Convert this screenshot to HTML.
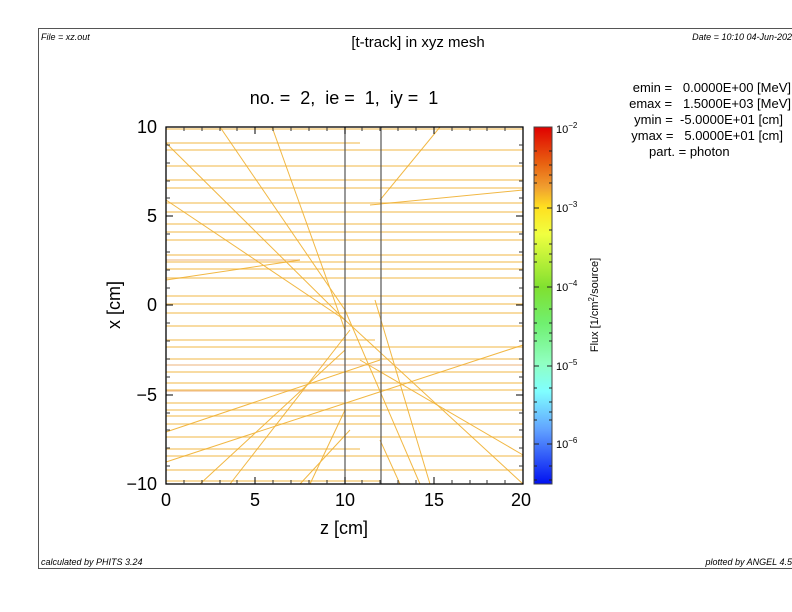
<!DOCTYPE html>
<html><head><meta charset="utf-8"><style>
html,body{margin:0;padding:0;background:#fff;}
svg{display:block;font-family:"Liberation Sans",sans-serif;}
.p{white-space:pre;}
</style></head><body>
<svg width="792" height="612" viewBox="0 0 792 612" xmlns="http://www.w3.org/2000/svg">
<defs>
<linearGradient id="cb" x1="0" y1="0" x2="0" y2="1">
<stop offset="0" stop-color="#e00000"/>
<stop offset="0.1" stop-color="#e86010"/>
<stop offset="0.17" stop-color="#f0a030"/>
<stop offset="0.225" stop-color="#ffe020"/>
<stop offset="0.3" stop-color="#f0ff40"/>
<stop offset="0.45" stop-color="#80e030"/>
<stop offset="0.55" stop-color="#70f070"/>
<stop offset="0.66" stop-color="#90ffc0"/>
<stop offset="0.74" stop-color="#80ffff"/>
<stop offset="0.85" stop-color="#60a0ff"/>
<stop offset="1" stop-color="#0010f0"/>
</linearGradient>
</defs>
<rect x="38.5" y="28.5" width="760" height="540" fill="none" stroke="#555" stroke-width="1"/>
<text x="41" y="40" font-size="9" font-style="italic">File = xz.out</text>
<text x="792" y="40" font-size="9" font-style="italic" text-anchor="end">Date = 10:10 04-Jun-202</text>
<text x="418" y="47" font-size="15" text-anchor="middle">[t-track] in xyz mesh</text>
<text class="p" x="344" y="104" font-size="18" text-anchor="middle">no. =  2,  ie =  1,  iy =  1</text>
<g font-size="13" text-anchor="end">
<text class="p" x="791" y="92">emin =   0.0000E+00 [MeV]</text>
<text class="p" x="791" y="108">emax =   1.5000E+03 [MeV]</text>
<text class="p" x="783" y="124">ymin =  -5.0000E+01 [cm]</text>
<text class="p" x="783" y="140">ymax =   5.0000E+01 [cm]</text>
</g>
<text x="649" y="156" font-size="13">part. = photon</text>
<text x="41" y="565" font-size="9" font-style="italic">calculated by PHITS 3.24</text>
<text x="792" y="565" font-size="9" font-style="italic" text-anchor="end">plotted by ANGEL 4.5</text>

<g stroke="#f2b33a" stroke-width="1.2" opacity="0.75">
<line x1="166" y1="129" x2="523" y2="129"/>
<line x1="166" y1="143" x2="360" y2="143"/><line x1="166" y1="150" x2="523" y2="150"/>
<line x1="166" y1="166" x2="523" y2="166"/>
<line x1="166" y1="180" x2="523" y2="180"/>
<line x1="166" y1="188" x2="523" y2="188"/>
<line x1="166" y1="203" x2="523" y2="203"/><line x1="166" y1="212" x2="523" y2="212"/>
<line x1="166" y1="224" x2="523" y2="224"/>
<line x1="166" y1="232" x2="523" y2="232"/><line x1="166" y1="240" x2="523" y2="240"/>
<line x1="166" y1="255" x2="523" y2="255"/>
<line x1="166" y1="262" x2="523" y2="262"/>
<line x1="166" y1="269" x2="523" y2="269"/><line x1="166" y1="278" x2="523" y2="278"/>
<line x1="166" y1="296" x2="523" y2="296"/><line x1="166" y1="304" x2="523" y2="304"/>
<line x1="166" y1="313" x2="523" y2="313"/>
<line x1="166" y1="326" x2="523" y2="326"/>
<line x1="166" y1="340" x2="375" y2="340"/><line x1="166" y1="347" x2="523" y2="347"/>
<line x1="166" y1="359" x2="523" y2="359"/>
<line x1="166" y1="372" x2="523" y2="372"/>
<line x1="166" y1="383" x2="523" y2="383"/>
<line x1="166" y1="390" x2="523" y2="390"/>
<line x1="166" y1="403" x2="523" y2="403"/><line x1="166" y1="410" x2="523" y2="410"/>
<line x1="166" y1="416" x2="380" y2="416"/><line x1="166" y1="424" x2="523" y2="424"/>
<line x1="166" y1="437" x2="523" y2="437"/>
<line x1="166" y1="449" x2="360" y2="449"/>
<line x1="166" y1="456" x2="523" y2="456"/>
<line x1="166" y1="470" x2="523" y2="470"/>
<line x1="166" y1="481" x2="380" y2="481"/>
</g>
<g stroke="#e89a50" stroke-width="1.2" opacity="0.6">
<line x1="166" y1="260" x2="300" y2="260"/><line x1="166" y1="365" x2="523" y2="365"/>
<line x1="166" y1="391" x2="350" y2="391"/>
</g>
<g stroke="#f0b030" stroke-width="1" fill="none" opacity="0.9">
<line x1="166" y1="143" x2="345" y2="320"/>
<line x1="345" y1="320" x2="523" y2="484"/>
<line x1="220" y1="127" x2="345" y2="310"/>
<line x1="345" y1="310" x2="420" y2="484"/>
<line x1="272" y1="127" x2="345" y2="330"/>
<line x1="166" y1="280" x2="300" y2="260"/>
<line x1="166" y1="432" x2="380" y2="360"/>
<line x1="166" y1="462" x2="523" y2="345"/>
<line x1="360" y1="360" x2="523" y2="455"/>
<line x1="375" y1="300" x2="430" y2="484"/>
<line x1="230" y1="484" x2="350" y2="330"/>
<line x1="300" y1="484" x2="350" y2="430"/>
<line x1="370" y1="205" x2="523" y2="190"/>
<line x1="380" y1="200" x2="440" y2="127"/>
<line x1="310" y1="484" x2="345" y2="410"/>
<line x1="380" y1="440" x2="400" y2="484"/>
<line x1="166" y1="200" x2="345" y2="320"/>
<line x1="200" y1="484" x2="345" y2="350"/>
</g>
<g stroke="#555" stroke-width="1.2">
<line x1="345" y1="127" x2="345" y2="484"/>
<line x1="381" y1="127" x2="381" y2="484"/>
</g>
<rect x="166" y="127" width="357" height="357" fill="none" stroke="#000" stroke-width="1.3"/>
<g stroke="#000" stroke-width="1">
<path d="M166 127v7M255 127v7M345 127v7M434 127v7M523 127v7M166 484v-7M255 484v-7M345 484v-7M434 484v-7M523 484v-7"/>
<path d="M166 127h7M166 216h7M166 305h7M166 395h7M166 484h7M523 127h-7M523 216h-7M523 305h-7M523 395h-7M523 484h-7"/>
</g>
<g stroke="#333" stroke-width="1">
<path d="M184 127v4M202 127v4M220 127v4M237 127v4M273 127v4M291 127v4M309 127v4M327 127v4M362 127v4M380 127v4M398 127v4M416 127v4M452 127v4M470 127v4M487 127v4M505 127v4"/>
<path d="M184 484v-4M202 484v-4M220 484v-4M237 484v-4M273 484v-4M291 484v-4M309 484v-4M327 484v-4M362 484v-4M380 484v-4M398 484v-4M416 484v-4M452 484v-4M470 484v-4M487 484v-4M505 484v-4"/>
<path d="M166 145h4M166 163h4M166 181h4M166 198h4M166 234h4M166 252h4M166 270h4M166 288h4M166 323h4M166 341h4M166 359h4M166 377h4M166 413h4M166 430h4M166 448h4M166 466h4"/>
<path d="M523 145h-4M523 163h-4M523 181h-4M523 198h-4M523 234h-4M523 252h-4M523 270h-4M523 288h-4M523 323h-4M523 341h-4M523 359h-4M523 377h-4M523 413h-4M523 430h-4M523 448h-4M523 466h-4"/>
</g>
<g font-size="18" text-anchor="middle">
<text x="166" y="506">0</text><text x="255" y="506">5</text><text x="345" y="506">10</text><text x="434" y="506">15</text><text x="521" y="506">20</text>
<text x="344" y="534">z [cm]</text>
</g>
<g font-size="18" text-anchor="end">
<text x="157" y="133">10</text><text x="157" y="222">5</text><text x="157" y="311">0</text><text x="157" y="401">−5</text><text x="157" y="490">−10</text>
</g>
<text x="0" y="0" font-size="18" text-anchor="middle" transform="translate(120,305) rotate(-90)">x [cm]</text>
<rect x="534" y="127" width="18" height="357" fill="url(#cb)" stroke="#444" stroke-width="1"/>
<g stroke="#222" stroke-width="1">
<path d="M534 208h5M547 208h5M534 287h5M547 287h5M534 366h5M547 366h5M534 444h5M547 444h5"/>
<path d="M534 151h3M549 151h3M534 165h3M549 165h3M534 175h3M549 175h3M534 183h3M549 183h3M534 230h3M549 230h3M534 244h3M549 244h3M534 254h3M549 254h3M534 262h3M549 262h3M534 309h3M549 309h3M534 323h3M549 323h3M534 333h3M549 333h3M534 341h3M549 341h3M534 388h3M549 388h3M534 402h3M549 402h3M534 412h3M549 412h3M534 420h3M549 420h3M534 466h3M549 466h3M534 480h3M549 480h3"/>
</g>
<g font-size="11">
<text x="556" y="133">10<tspan font-size="8" dy="-5">−2</tspan></text>
<text x="556" y="212">10<tspan font-size="8" dy="-5">−3</tspan></text>
<text x="556" y="291">10<tspan font-size="8" dy="-5">−4</tspan></text>
<text x="556" y="370">10<tspan font-size="8" dy="-5">−5</tspan></text>
<text x="556" y="448">10<tspan font-size="8" dy="-5">−6</tspan></text>
</g>
<text font-size="11" text-anchor="middle" transform="translate(598,305) rotate(-90)">Flux [1/cm<tspan font-size="8" dy="-4">2</tspan><tspan dy="4">/source]</tspan></text>
</svg>
</body></html>
